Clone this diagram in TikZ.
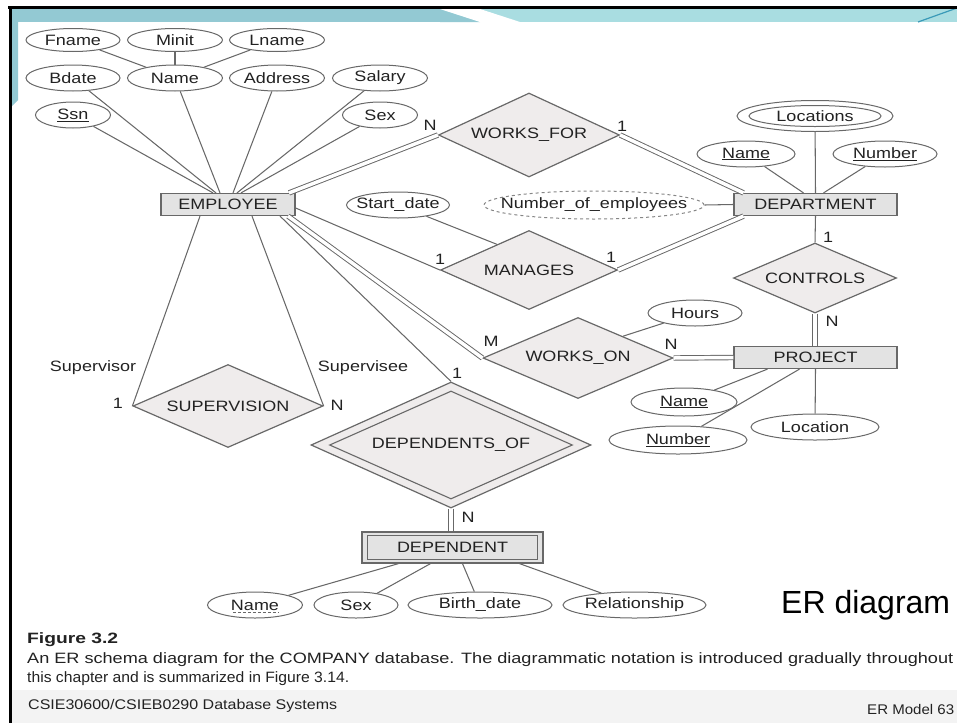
\documentclass[tikz,border=0pt]{standalone}
\usepackage{fontspec}
\setmainfont{Liberation Sans}[FakeStretch=1.2]
\newfontfamily\plainfont{Liberation Sans}
\usetikzlibrary{shapes.geometric,calc}
\definecolor{lg}{HTML}{686868}
\definecolor{txt}{HTML}{222222}
\definecolor{entfill}{HTML}{E3E3E3}
\definecolor{relfill}{HTML}{EFECEC}
\definecolor{band}{HTML}{A9DDE1}
\definecolor{bandleft}{HTML}{93C9D3}
\definecolor{bandline}{HTML}{3A9AB8}
\definecolor{foot}{HTML}{F3F3F3}
\definecolor{captxt}{HTML}{222222}
\begin{document}
\begin{tikzpicture}[x=1pt,y=-1pt,
  every node/.style={text=txt, font=\fontsize{15}{18}\selectfont},
  zw/.style={execute at begin node={\hbox to 0pt\bgroup\hss}, execute at end node={\hss\egroup}},
  attr/.style={zw, ellipse, draw=lg, line width=1pt, fill=white, inner sep=0pt, minimum height=26pt, minimum width=#1},
  ent/.style={zw, rectangle, draw=lg, line width=1.2pt, fill=entfill, inner sep=0pt, minimum height=22pt, minimum width=#1},
  rel/.style 2 args={zw, diamond, draw=lg, line width=1.2pt, fill=relfill, inner sep=0pt, minimum width=#1, minimum height=#2},
  ln/.style={draw=lg, line width=1.05pt},
  dbl/.style={draw=lg, line width=0.95pt, double=white, double distance=3.5pt},
  lab/.style={inner sep=0pt},
  captext/.style={anchor=base west, inner sep=0pt, text=captxt}
]
\useasboundingbox (0,0) rectangle (957,723);
\clip (0,0) rectangle (957,723);
% slide frame
\fill[foot] (12,690) rectangle (957,723);
\fill[band] (12,9) rectangle (957,22);
\fill[bandleft] (12,9) rectangle (440,22);
\fill[bandleft] (440,9) -- (480,22) -- (440,22) -- cycle;
\fill[white] (440,9) -- (480,9) -- (520,22) -- (480,22) -- cycle;
\fill[bandleft] (12,9) -- (18,9) -- (18,100) -- (12,106) -- cycle;
\draw[bandline, line width=1.2pt] (918,22) -- (957,8);
\draw[black, line width=2.5pt] (8,7.5) -- (957,7.5);
\draw[black, line width=3pt] (10.5,6) -- (10.5,723);

% EMPLOYEE attributes
\node[attr=94, minimum height=23pt] (fname) at (73,40) {Fname};
\node[attr=95, minimum height=23pt] (minit) at (175,40) {Minit};
\node[attr=95, minimum height=23pt] (lname) at (277,40) {Lname};
\node[attr=94] (bdate) at (73,78) {Bdate};
\node[attr=95] (ename) at (175,78) {Name};
\node[attr=95] (addr) at (277,78) {Address};
\node[attr=95] (salary) at (380,78) {Salary};
\node[attr=75] (ssn) at (73,115) {\underline{Ssn}};
\node[attr=75] (esex) at (380,115) {Sex};

% entities
\node[ent=134] (emp) at (228,204.5) {EMPLOYEE};
\node[ent=163] (dept) at (815.5,204.5) {DEPARTMENT};
\node[ent=163] (proj) at (815.5,357.5) {PROJECT};
\node[ent=181, minimum height=31pt] (dep) at (452.5,547.5) {DEPENDENT};
\draw[lg, line width=1.1pt] ($(dep.south west)+(6,-4)$) rectangle ($(dep.north east)+(-6,4)$);

% relationships
\node[rel={181}{84}] (wf) at (529,135) {WORKS\_FOR};
\node[rel={177}{79}] (man) at (529,270) {MANAGES};
\node[rel={190}{81}] (won) at (578,358) {WORKS\_ON};
\node[rel={163}{70}] (ctl) at (815,278) {CONTROLS};
\node[rel={190}{83}] (sup) at (228,406) {SUPERVISION};
\node[rel={280}{126}] (depof) at (451,445) {DEPENDENTS\_OF};
\node[zw, diamond, draw=lg, line width=1.1pt, inner sep=0pt, minimum width=243pt, minimum height=108pt] (depofin) at (451,445) {};

% other attributes
\node[attr=156, minimum height=31pt] (loc) at (815,116) {Locations};
\node[zw, ellipse, draw=lg, line width=1pt, inner sep=0pt, minimum width=132pt, minimum height=21pt] (locin) at (815,116) {};
\node[attr=98] (dname) at (746,154) {\underline{Name}};
\node[attr=104] (dnum) at (885,154) {\underline{Number}};
\node[attr=220, minimum height=28pt, draw=lg!80, dashed] (noe) at (594,205) {Number\_of\_employees};
\node[attr=103] (sdate) at (398,205) {Start\_date};
\node[attr=94] (hours) at (695,313) {Hours};
\node[attr=106, minimum height=28pt] (pname) at (684,402) {\underline{Name}};
\node[attr=138, minimum height=28pt] (pnum) at (678,440) {\underline{Number}};
\node[attr=128] (ploc) at (815,427) {Location};
\node[attr=95] (ddname) at (255,605) {Name};
\draw[lg, line width=0.8pt, dash pattern=on 3pt off 2pt] ($(ddname.center)+(-22,7.5)$) -- ($(ddname.center)+(24,7.5)$);
\node[attr=84] (ddsex) at (356,605) {Sex};
\node[attr=144] (ddbirth) at (480,605) {Birth\_date};
\node[attr=143] (ddrel) at (634.5,605) {Relationship};

% attribute connectors
\draw[ln] (fname) -- (ename);
\draw[ln] (minit) -- (ename);
\draw[ln] (lname) -- (ename);
\draw[ln] (ssn) -- ([xshift=-15pt]emp.north);
\draw[ln] (bdate) -- ([xshift=-12pt]emp.north);
\draw[ln] (ename) -- ([xshift=-8pt]emp.north);
\draw[ln] (addr) -- ([xshift=5pt]emp.north);
\draw[ln] (salary) -- ([xshift=9pt]emp.north);
\draw[ln] (esex) -- ([xshift=13pt]emp.north);
\draw[ln] (loc) -- (dept.north);
\draw[ln] (dname) -- ([xshift=-12pt]dept.north);
\draw[ln] (dnum) -- ([xshift=8pt]dept.north);
\draw[ln] (noe.east) -- (dept.west);
\draw[ln] (sdate) -- ($(man.north)!0.36!(man.west)$);
\draw[ln] (hours) -- ($(won.north)!0.47!(won.east)$);
\draw[ln] (pname) -- ([xshift=-48pt]proj.south);
\draw[ln] (pnum) -- ([xshift=-16pt]proj.south);
\draw[ln] (ploc) -- (proj.south);
\draw[ln] (ddname) -- ([xshift=-54pt]dep.south);
\draw[ln] (ddsex) -- ([xshift=-22pt]dep.south);
\draw[ln] (ddbirth) -- ([xshift=10pt]dep.south);
\draw[ln] (ddrel) -- ([xshift=67pt]dep.south);

% relationship connectors
\draw[dbl] ([xshift=61pt]emp.north) -- (wf.west);
\draw[dbl] (wf.east) -- ([xshift=-72pt]dept.north);
\draw[ln] ([yshift=-3.5pt]emp.east) -- (man.west);
\draw[dbl] (man.east) -- ([xshift=-72pt]dept.south);
\draw[dbl] ([xshift=60pt]emp.south) -- (won.west);
\draw[dbl] (won.east) -- (proj.west);
\draw[ln] (dept.south) -- (ctl.north);
\draw[dbl] (ctl.south) -- (ctl.south |- proj.north);
\draw[ln] ([xshift=52pt]emp.south) -- (depof.north);
\draw[dbl] (depof.south) -- (depof.south |- dep.north);
\draw[ln] ([xshift=-28pt]emp.south) -- (sup.west);
\draw[ln] ([xshift=24pt]emp.south) -- (sup.east);

% cardinality and role labels
\node[lab] (c1) at (430,125) {N};
\node[lab] (c2) at (622,126) {1};
\node[lab] (c3) at (440,259) {1};
\node[lab] (c4) at (611,257) {1};
\node[lab] (c5) at (828,237) {1};
\node[lab] (c6) at (832,321) {N};
\node[lab] (c7) at (491,341) {M};
\node[lab] (c8) at (671,344) {N};
\node[lab] (c9) at (457,373) {1};
\node[lab] (c10) at (468,517) {N};
\node[lab] (c11) at (118,403) {1};
\node[lab] (c12) at (337,405) {N};
\node[lab] (r1) at (93,368) {Supervisor};
\node[lab] (r2) at (363,368) {Supervisee};

% slide texts
\node[anchor=base west, inner sep=0pt, text=black, font=\plainfont\fontsize{32}{36}\selectfont] (erd) at (781,613) {ER diagram};
\node[captext, font=\plainfont\bfseries\fontsize{15}{18}\selectfont] (fig) at (27,643) {\resizebox{91pt}{\height}{Figure 3.2}};
\node[captext, font=\plainfont\fontsize{15}{18}\selectfont] (cap1) at (27,663) {\resizebox{926pt}{\height}{An ER schema diagram for the COMPANY database. The diagrammatic notation is introduced gradually throughout}};
\node[captext, font=\plainfont\fontsize{15}{18}\selectfont] (cap2) at (27,682) {\resizebox{322pt}{\height}{this chapter and is summarized in Figure 3.14.}};
\node[captext, text=txt, font=\plainfont\fontsize{14}{17}\selectfont] (foot1) at (28,709) {\resizebox{309pt}{\height}{CSIE30600/CSIEB0290 Database Systems}};
\node[captext, text=txt, font=\plainfont\fontsize{14}{17}\selectfont] (foot2) at (867,714) {\resizebox{87pt}{\height}{ER Model 63}};
\end{tikzpicture}
\end{document}
